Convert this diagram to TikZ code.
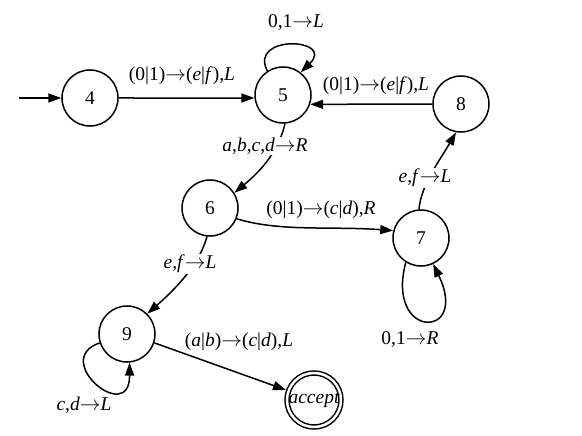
\documentclass[tikz,border=0pt]{standalone}
\usepackage{fontspec}
\setmainfont{Liberation Serif}
\usetikzlibrary{arrows.meta}
\begin{document}
\begin{tikzpicture}[x=1pt,y=-1pt,
  state/.style={circle,draw,line width=1.5pt,minimum size=56pt,inner sep=0pt,font=\fontsize{19.5}{22}\selectfont},
  arr/.style={line width=1.5pt,-{Triangle[length=13pt,width=9pt]}},
  lbl/.style={font=\fontsize{19.5}{22}\selectfont,inner sep=1pt},
  gap/.style={lbl,fill=white}]
\useasboundingbox (0,0) rectangle (582,436);
\node[state] (n4) at (90,98) {4};
\node[state] (n5) at (283,95) {5};
\node[state] (n8) at (461,104) {8};
\node[state] (n6) at (210,208) {6};
\node[state] (n7) at (421,238) {7};
\node[state] (n9) at (127,334) {9};
\node[state,double,double distance=2.5pt,minimum size=54pt,outer sep=2.75pt,font=\itshape\fontsize{19.5}{22}\selectfont] (acc) at (314,400) {accept};
\coordinate (s) at (19,98);
\draw[arr] (s) -- (n4);
\draw[arr] (n4.east) -- (n5.186);
\draw[arr] (n5.123) .. controls (248,34) and (336,38) .. (n5.52);
\draw[arr] (n8.west) -- (n5.-19);
\draw[arr] (n5.-86) .. controls (280,145) and (268,165) .. (n6.32);
\draw[arr] (n6.-22) .. controls (280,232) and (330,226) .. (n7.165);
\draw[arr] (n7.94) .. controls (421,185) and (440,160) .. (n8.-100);
\draw[arr] (n7.-122) .. controls (385,340) and (470,340) .. (n7.-65);
\draw[arr] (n6.-96) .. controls (200,262) and (180,285) .. (n9.45);
\draw[arr] (n9.-18) -- (acc);
\draw[arr] (n9.198) .. controls (50,360) and (130,426) .. (n9.-85);
\node[lbl] (l45) at (182,76) {(0|1)$\rightarrow$(\textit{e}|\textit{f}),\textit{L}};
\node[lbl] (l55) at (296,23) {0,1$\rightarrow$\textit{L}};
\node[lbl] (l85) at (376,86) {(0|1)$\rightarrow$(\textit{e}|\textit{f}),\textit{L}};
\node[gap] (l56) at (265,146) {\textit{a},\textit{b},\textit{c},\textit{d}$\rightarrow$\textit{R}};
\node[lbl] (l67) at (321,210) {(0|1)$\rightarrow$(\textit{c}|\textit{d}),\textit{R}};
\node[gap] (l78) at (425,178) {\textit{e},\textit{f}$\rightarrow$\textit{L}};
\node[lbl] (l77) at (410,340) {0,1$\rightarrow$\textit{R}};
\node[gap] (l69) at (190,264) {\textit{e},\textit{f}$\rightarrow$\textit{L}};
\node[lbl] (l9a) at (239,342) {(\textit{a}|\textit{b})$\rightarrow$(\textit{c}|\textit{d}),\textit{L}};
\node[lbl] (l99) at (84,405) {\textit{c},\textit{d}$\rightarrow$\textit{L}};
\end{tikzpicture}
\end{document}
